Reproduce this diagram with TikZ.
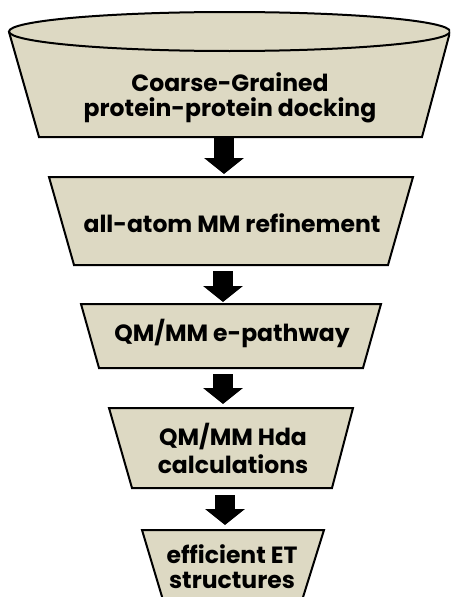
\documentclass[tikz,border=0pt]{standalone}
\usepackage{fontspec}
\setmainfont{Poppins}
\usetikzlibrary{arrows.meta}
\definecolor{stagefill}{HTML}{DDD9C3}
\begin{document}
\begin{tikzpicture}[x=1pt,y=-1pt,
  stage/.style={fill=stagefill, draw=black, line width=2pt, line join=miter},
  lbl/.style={font=\bfseries\fontsize{23.5}{28}\selectfont, align=center, text=black, inner sep=0pt},
  biglbl/.style={font=\bfseries\fontsize{23.5}{25}\selectfont, align=center, text=black, inner sep=0pt},
  linelbl/.style={font=\bfseries\fontsize{23.5}{28}\selectfont, text=black, inner sep=0pt, anchor=base},
  flow/.style={line width=20pt, line cap=butt, -{Triangle[width=39pt,length=16pt]}}]
\useasboundingbox (0,0) rectangle (450,597);
\clip (0,0) rectangle (450,597);
% stage 1: funnel top
\path[stage] (9,32) -- (39,137) -- (422,137) -- (450,32);
\path[stage] (229.5,31.5) ellipse [x radius=220.5, y radius=19.5];
\node[biglbl] (t1) at (230,98) {Coarse-Grained\\protein-protein docking};
% stage 2
\path[stage] (49,177) -- (413,177) -- (388,265) -- (74,265) -- cycle;
\node[lbl] (t2) at (232,223) {all-atom MM refinement};
% stage 3
\path[stage] (81,304) -- (381,304) -- (363,368) -- (99,368) -- cycle;
\node[lbl] (t3) at (232,333) {QM/MM e-pathway};
% stage 4
\path[stage] (109,408) -- (353,408) -- (332,488) -- (132,488) -- cycle;
\node[lbl] (t4) at (233,448) {QM/MM Hda\\calculations};
% stage 5
\path[stage] (142,530) -- (324,530) -- (299,610) -- (166,610) -- cycle;
\node[linelbl] (t5a) at (232,563) {efficient ET};
\node[linelbl] (t5b) at (232,588) {structures};
% arrow end points
\coordinate (s1) at (224,138);
\coordinate (n2) at (224,174);
\coordinate (s2) at (223,271);
\coordinate (n3) at (223,302);
\coordinate (s3) at (223,374);
\coordinate (n4) at (223,404);
\coordinate (s4) at (225,495);
\coordinate (n5) at (225,525);
\draw[flow] (s1) -- (n2);
\draw[flow] (s2) -- (n3);
\draw[flow] (s3) -- (n4);
\draw[flow] (s4) -- (n5);
\end{tikzpicture}
\end{document}
